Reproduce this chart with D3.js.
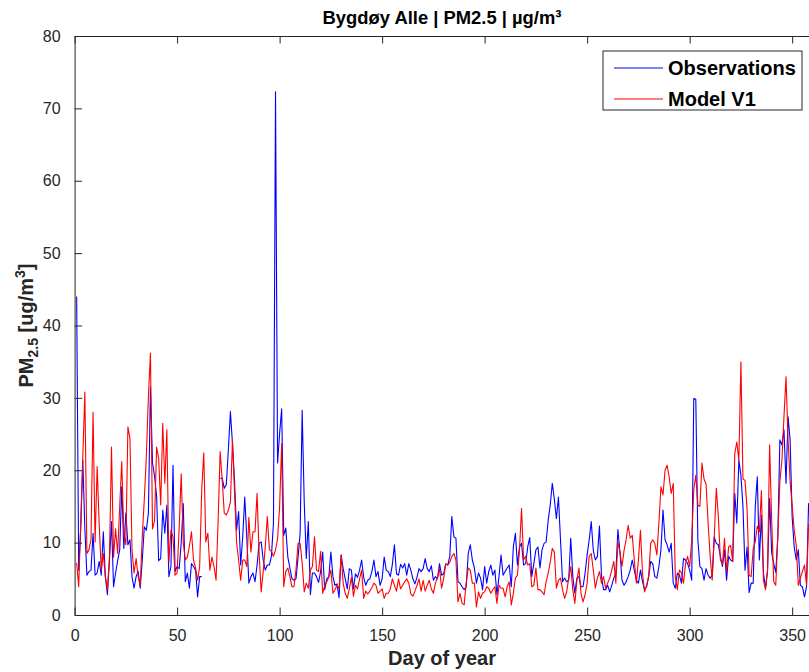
<!DOCTYPE html>
<html>
<head>
<meta charset="utf-8">
<script src="https://cdn.jsdelivr.net/npm/d3@7"></script>
<style>
  body { margin: 0; background: #fff; }
  svg { display: block; font-family: "Liberation Sans", Arial, sans-serif; }
</style>
</head>
<body>
<div id="chart"></div>
<script>
// daily PM2.5 values, day 1 .. 359 (null = no observation)
var observations = [
  44, 6.2, 12, 21.4, 12, 5.5, 6, 6.2, 11.3, 5.5,
  5.8, 7.4, 5.5, 11.5, 5.3, 2.8, 7.5, 12.9, 3.9, 5.8,
  7.5, 9, 17.7, 9.2, 14.1, 9.7, 10.4, 5.3, 3.7, 5.3,
  6, 3.7, 7.5, 12.2, 11.7, 14.1, 31.5, 21, 19.2, 16.4,
  7.5, 7.8, 14.5, 11.3, 15.2, 5.3, 6.7, 20.7, 6, 6.7,
  6.4, 10, 15.4, 4.6, 5.8, 3.7, 7.1, 6.7, 6.2, 2.5,
  5.3, 5.3, null, null, null, null, null, null, null, null,
  18.9, 18.9, 17.5, 18, 22.8, 28.1, 23.7, 18.6, 11.7, 14.3,
  6.9, 10.8, 16.3, 10.6, 4.4, 5.3, 5.8, 4.6, 6.9, 9.9,
  10.1, 7.6, 6.2, 6.9, 6.9, 8.1, 12.7, 72.3, 21, 25.1,
  28.5, 11, 12, 8, 6.5, 5, 4.8, 5, 8, 11.3,
  28.3, 15.6, 7.8, 12.9, 2.8, 5.8, 5.8, 5.3, 4.5, 6,
  8.7, 3.5, 5, 5.3, 8.7, 5.3, 4.1, 4.3, 2.4, 8.3,
  6.4, 5, 3.6, 6.4, 6.2, 3.6, 5.7, 5.2, 6.2, 7.6,
  5.2, 4.1, 4.8, 5, 6, 7.6, 5.3, 6, 4.1, 5,
  8, 6.2, 6, 5.3, 7, 9.7, 5.7, 5.5, 7, 6.5,
  7.1, 5.5, 7.1, 6.2, 5, 4.3, 5.2, 6.4, 6, 6.4,
  7.8, 6.4, 6, 6.8, 4.8, 5.3, 5, 7.1, 5.5, 5.7,
  7, 6.9, 8.1, 13.6, 10.8, 10.6, 4.6, 4.4, 3.9, 3.5,
  3.9, 8.5, 9.7, 7.6, 6.5, 4.4, 5.8, 5.1, 3.5, 6.7,
  4.4, 6, 6.9, 5.5, 6.2, 2.8, 5.3, 8.3, 5.5, 6,
  6.5, 6.9, 3.9, 9.4, 11.3, 6.9, 9.4, 9.9, 6.9, 7.1,
  9.4, 10.7, 5.3, 7.1, 9, 9.4, 6.5, 9, 9.9, 10.1,
  13.1, 15.2, 18.2, 16, 13.3, 16.3, 10.4, 4.6, 5.1, 4.6,
  4.8, 10.6, 5.3, 3, 5.1, 5.3, 3.9, 3.9, 5.8, 8.3,
  10.4, 12.9, 8.9, 7.6, 8.1, 12.3, 5.3, 3.5, 3.5, 4.1,
  3.2, 4.1, 5.1, 5.8, 11.8, 8.7, 4.8, 4.1, 4.6, 5.3,
  6.2, 7.6, 6.2, 4.8, 4.4, 6.2, 4.6, 3.5, 3.9, 5.3,
  7.4, 7.1, 5.3, 5.1, 6.7, 9, 14.5, 10.4, 9.7, 8.7,
  9.9, 4.4, 3.7, 5.8, 5.5, 4.4, 7.8, 7.6, 7.1, 6.2,
  4.8, 29.9, 29.8, 10.4, 6.7, 6.4, 4.8, 6.4, 5.5, 5.1,
  5.5, 10.8, 9.9, 9.7, 8.1, 6.7, 9, 4.8, 8.1, 7.6,
  7.4, 16.8, 12.7, 21.4, 19.3, 15, 6.2, 9.4, 3.1, 4.4,
  4.4, 15, 19.1, 7.6, 13.8, 5.8, 3.7, 6.2, 16.1, 8.6,
  7.1, 5.9, 10.8, 24.2, 23.5, 25.6, 18.2, 27.4, 24.2, 13.5,
  9.4, 7.6, 9, 4.1, 3.9, 2.5, 3.9, 15.4, 12.7
];

var modelV1 = [
  7.2, 3.9, 12.8, 21.8, 30.8, 8.5, 9, 10.4, 28, 10.1,
  20.5, 12.5, 6.2, 8.5, 5.3, 3.5, 8, 23.2, 8, 11.9,
  8.5, 15, 21.2, 11.3, 9.7, 26, 24.4, 9, 5.8, 7.8,
  5.3, 4.1, 10.8, 16, 22, 30.2, 36.2, 11.9, 13, 23.2,
  21.6, 15.2, 26.5, 18.2, 25.6, 7.3, 11.7, 10.8, 5.5, 5.8,
  12, 19.5, 10, 7.6, 8, 9.5, 11.5, 7.6, 6.5, 4.8,
  6.7, 17.3, 22.4, 10.1, 11.3, 6.2, 8, 6.7, 4.8, 13,
  22.6, 18.6, 14.1, 13.8, 14.5, 15.6, 24.2, 17, 10.1, 7.6,
  4.8, 7.6, 7.6, 6.7, 13.5, 8.7, 11.5, 11.5, 16.8, 8.5,
  3.2, 6, 9.4, 13.6, 9, 8.8, 8.1, 9, 10.5, 15,
  23.7, 3.9, 6, 6.5, 5.3, 3.9, 3.9, 6.3, 9.9, 9.9,
  7.2, 3.2, 4.4, 3.7, 6.2, 6.7, 10.8, 6.2, 6, 8.8,
  3, 4.1, 4.6, 5.2, 6.2, 3, 3.5, 4.1, 3.6, 8.3,
  4.4, 3, 2.3, 3.6, 5.2, 2.6, 4.1, 3.6, 5, 6.2,
  2.3, 3.3, 2.9, 3.3, 3.8, 4.4, 4.1, 3, 3.3, 3.6,
  2.3, 3, 3, 3.6, 5, 4.1, 3.3, 5, 3.6, 4.1,
  4.6, 5, 4.4, 2.9, 2.6, 3.3, 4.1, 5, 3.3, 4.8,
  3.3, 4.1, 4.8, 3.6, 3, 4.4, 5.2, 6.4, 3.7, 5,
  7.1, 6.9, 7.3, 8.1, 8.5, 7.6, 1.8, 3, 1.6, 1.4,
  4.4, 6.5, 6.2, 4.4, 4.4, 1.1, 3.2, 2.3, 3, 3.2,
  3.9, 3.7, 3, 3.5, 3.9, 1.6, 4.1, 3.7, 3.7, 2.5,
  3.9, 4.6, 1.4, 3, 5.1, 5.5, 9, 14.7, 7.6, 8.1,
  6.9, 7.1, 3.9, 4.1, 6.5, 3.5, 3.5, 3.2, 2.8, 4.6,
  5.8, 7.3, 9.2, 8.7, 3.7, 4.8, 5.1, 3.5, 2.3, 3.2,
  5.1, 6.7, 3.5, 1.6, 4.8, 6.5, 3, 1.8, 2.8, 4.4,
  8.1, 8.5, 6.2, 3.7, 5.1, 6, 4.4, 5.3, 3.7, 4.4,
  5.1, 6.2, 7.4, 4.4, 10.1, 8.7, 6.7, 8.9, 10.4, 12.4,
  10.6, 11, 7.6, 4.4, 7.6, 11.7, 5.8, 3.2, 4.1, 5.3,
  9.9, 10.4, 9.9, 8.3, 12.7, 17.7, 16.6, 20, 20.7, 19.1,
  16.8, 18.2, 5.3, 3.5, 6.2, 5.8, 4.4, 7.1, 8.1, 6.7,
  10.3, 17.3, 19.3, 15.2, 15, 21, 18.8, 18.1, 12.7, 8.1,
  4.8, 10.8, 17.5, 13.6, 7.6, 7, 10.6, 5.9, 9.4, 9.6,
  7.4, 22.3, 23.9, 21.4, 35, 18.8, 18.6, 14.7, 5.5, 5.3,
  9.2, 10.1, 12.3, 11.5, 17.2, 4.8, 3.5, 6.2, 23.5, 13.2,
  4.6, 4.1, 10.8, 18.4, 21.4, 27.4, 32.9, 24.2, 18.4, 15.2,
  11.7, 9.6, 4.1, 5.1, 6, 6.9, 4.1, 12.5, 12
];

var seriesNames = ["Observations", "Model V1"];
var seriesColors = ["#0000ff", "#ff0000"];
var xTicks = [0, 50, 100, 150, 200, 250, 300, 350];
var yTicks = [0, 10, 20, 30, 40, 50, 60, 70, 80];

// axes box runs just past the right edge of the window, as in the original figure
var margin = {top: 36, right: -1, bottom: 57, left: 74.6},
    width = 809 - margin.left - margin.right,
    height = 672 - margin.top - margin.bottom;

var axisColor = "#262626";
var tickLen = 7.5;

var svg = d3.select("#chart")
  .append("svg")
    .attr("width", 809)
    .attr("height", 672);

var g = svg.append("g")
    .attr("transform", "translate(" + margin.left + "," + margin.top + ")");

var x = d3.scaleLinear()
  .domain([0, 358.7])
  .range([0, width]);

var y = d3.scaleLinear()
  .domain([0, 80])
  .range([height, 0]);

// clip the lines to the axes box
svg.append("defs").append("clipPath")
    .attr("id", "plotclip")
  .append("rect")
    .attr("width", width)
    .attr("height", height);

var line = d3.line()
  .defined(function(d) { return d != null; })
  .x(function(d, i) { return x(i + 1); })
  .y(function(d) { return y(d); });

var lines = g.append("g").attr("clip-path", "url(#plotclip)");
[observations, modelV1].forEach(function(s, k) {
  lines.append("path")
    .datum(s)
    .attr("fill", "none")
    .attr("stroke", seriesColors[k])
    .attr("stroke-width", 1.1)
    .attr("stroke-linejoin", "round")
    .attr("d", line);
});

// axes: ticks pointing inward like matlab
var xAxis = g.append("g")
    .attr("transform", "translate(0," + height + ")")
    .call(d3.axisBottom(x).tickValues(xTicks).tickSizeInner(-tickLen).tickSizeOuter(0).tickPadding(15));

var xTop = g.append("g")
    .call(d3.axisTop(x).tickValues(xTicks).tickSizeInner(-tickLen).tickSizeOuter(0).tickFormat(""));

var yAxis = g.append("g")
    .call(d3.axisLeft(y).tickValues(yTicks).tickSizeInner(-tickLen).tickSizeOuter(0).tickPadding(14));

[xAxis, xTop, yAxis].forEach(function(a) {
  a.selectAll("path").attr("stroke", axisColor).attr("stroke-width", 1);
  a.selectAll("line").attr("stroke", axisColor).attr("stroke-width", 1);
  a.selectAll("text")
    .attr("fill", axisColor)
    .style("font-size", "16px")
    .style("font-family", "'Liberation Sans', Arial, sans-serif");
});

// title
svg.append("text")
    .attr("x", 442)
    .attr("y", 24)
    .attr("text-anchor", "middle")
    .attr("font-weight", 700)
    .attr("fill", "#000")
    .style("font-size", "18.4px")
    .text("Bygdøy Alle | PM2.5 | µg/m³");

// x label
svg.append("text")
    .attr("x", 442)
    .attr("y", 665)
    .attr("text-anchor", "middle")
    .attr("font-weight", 700)
    .attr("fill", axisColor)
    .style("font-size", "20px")
    .text("Day of year");

// y label with sub / superscript
var yLab = svg.append("text")
    .attr("transform", "translate(33," + (margin.top + height / 2) + ") rotate(-90)")
    .attr("text-anchor", "middle")
    .attr("font-weight", 700)
    .attr("fill", axisColor)
    .style("font-size", "20px");
yLab.append("tspan").text("PM");
yLab.append("tspan").attr("dy", 5).style("font-size", "14px").text("2.5");
yLab.append("tspan").attr("dy", -5).text(" [ug/m");
yLab.append("tspan").attr("dy", -8).style("font-size", "14px").text("3");
yLab.append("tspan").attr("dy", 8).text("]");

// legend
var legend = svg.append("g").attr("transform", "translate(603,51)");
legend.append("rect")
    .attr("width", 199)
    .attr("height", 59)
    .attr("fill", "#fff")
    .attr("stroke", axisColor)
    .attr("stroke-width", 1);

seriesNames.forEach(function(name, k) {
  var row = legend.append("g").attr("transform", "translate(0," + (17 + k * 31) + ")");
  row.append("line")
      .attr("x1", 11).attr("x2", 60)
      .attr("stroke", seriesColors[k])
      .attr("stroke-width", 1.1);
  row.append("text")
      .attr("x", 65)
      .attr("y", 7)
      .attr("font-weight", 700)
      .attr("fill", "#000")
      .style("font-size", "20px")
      .text(name);
});
</script>
</body>
</html>
